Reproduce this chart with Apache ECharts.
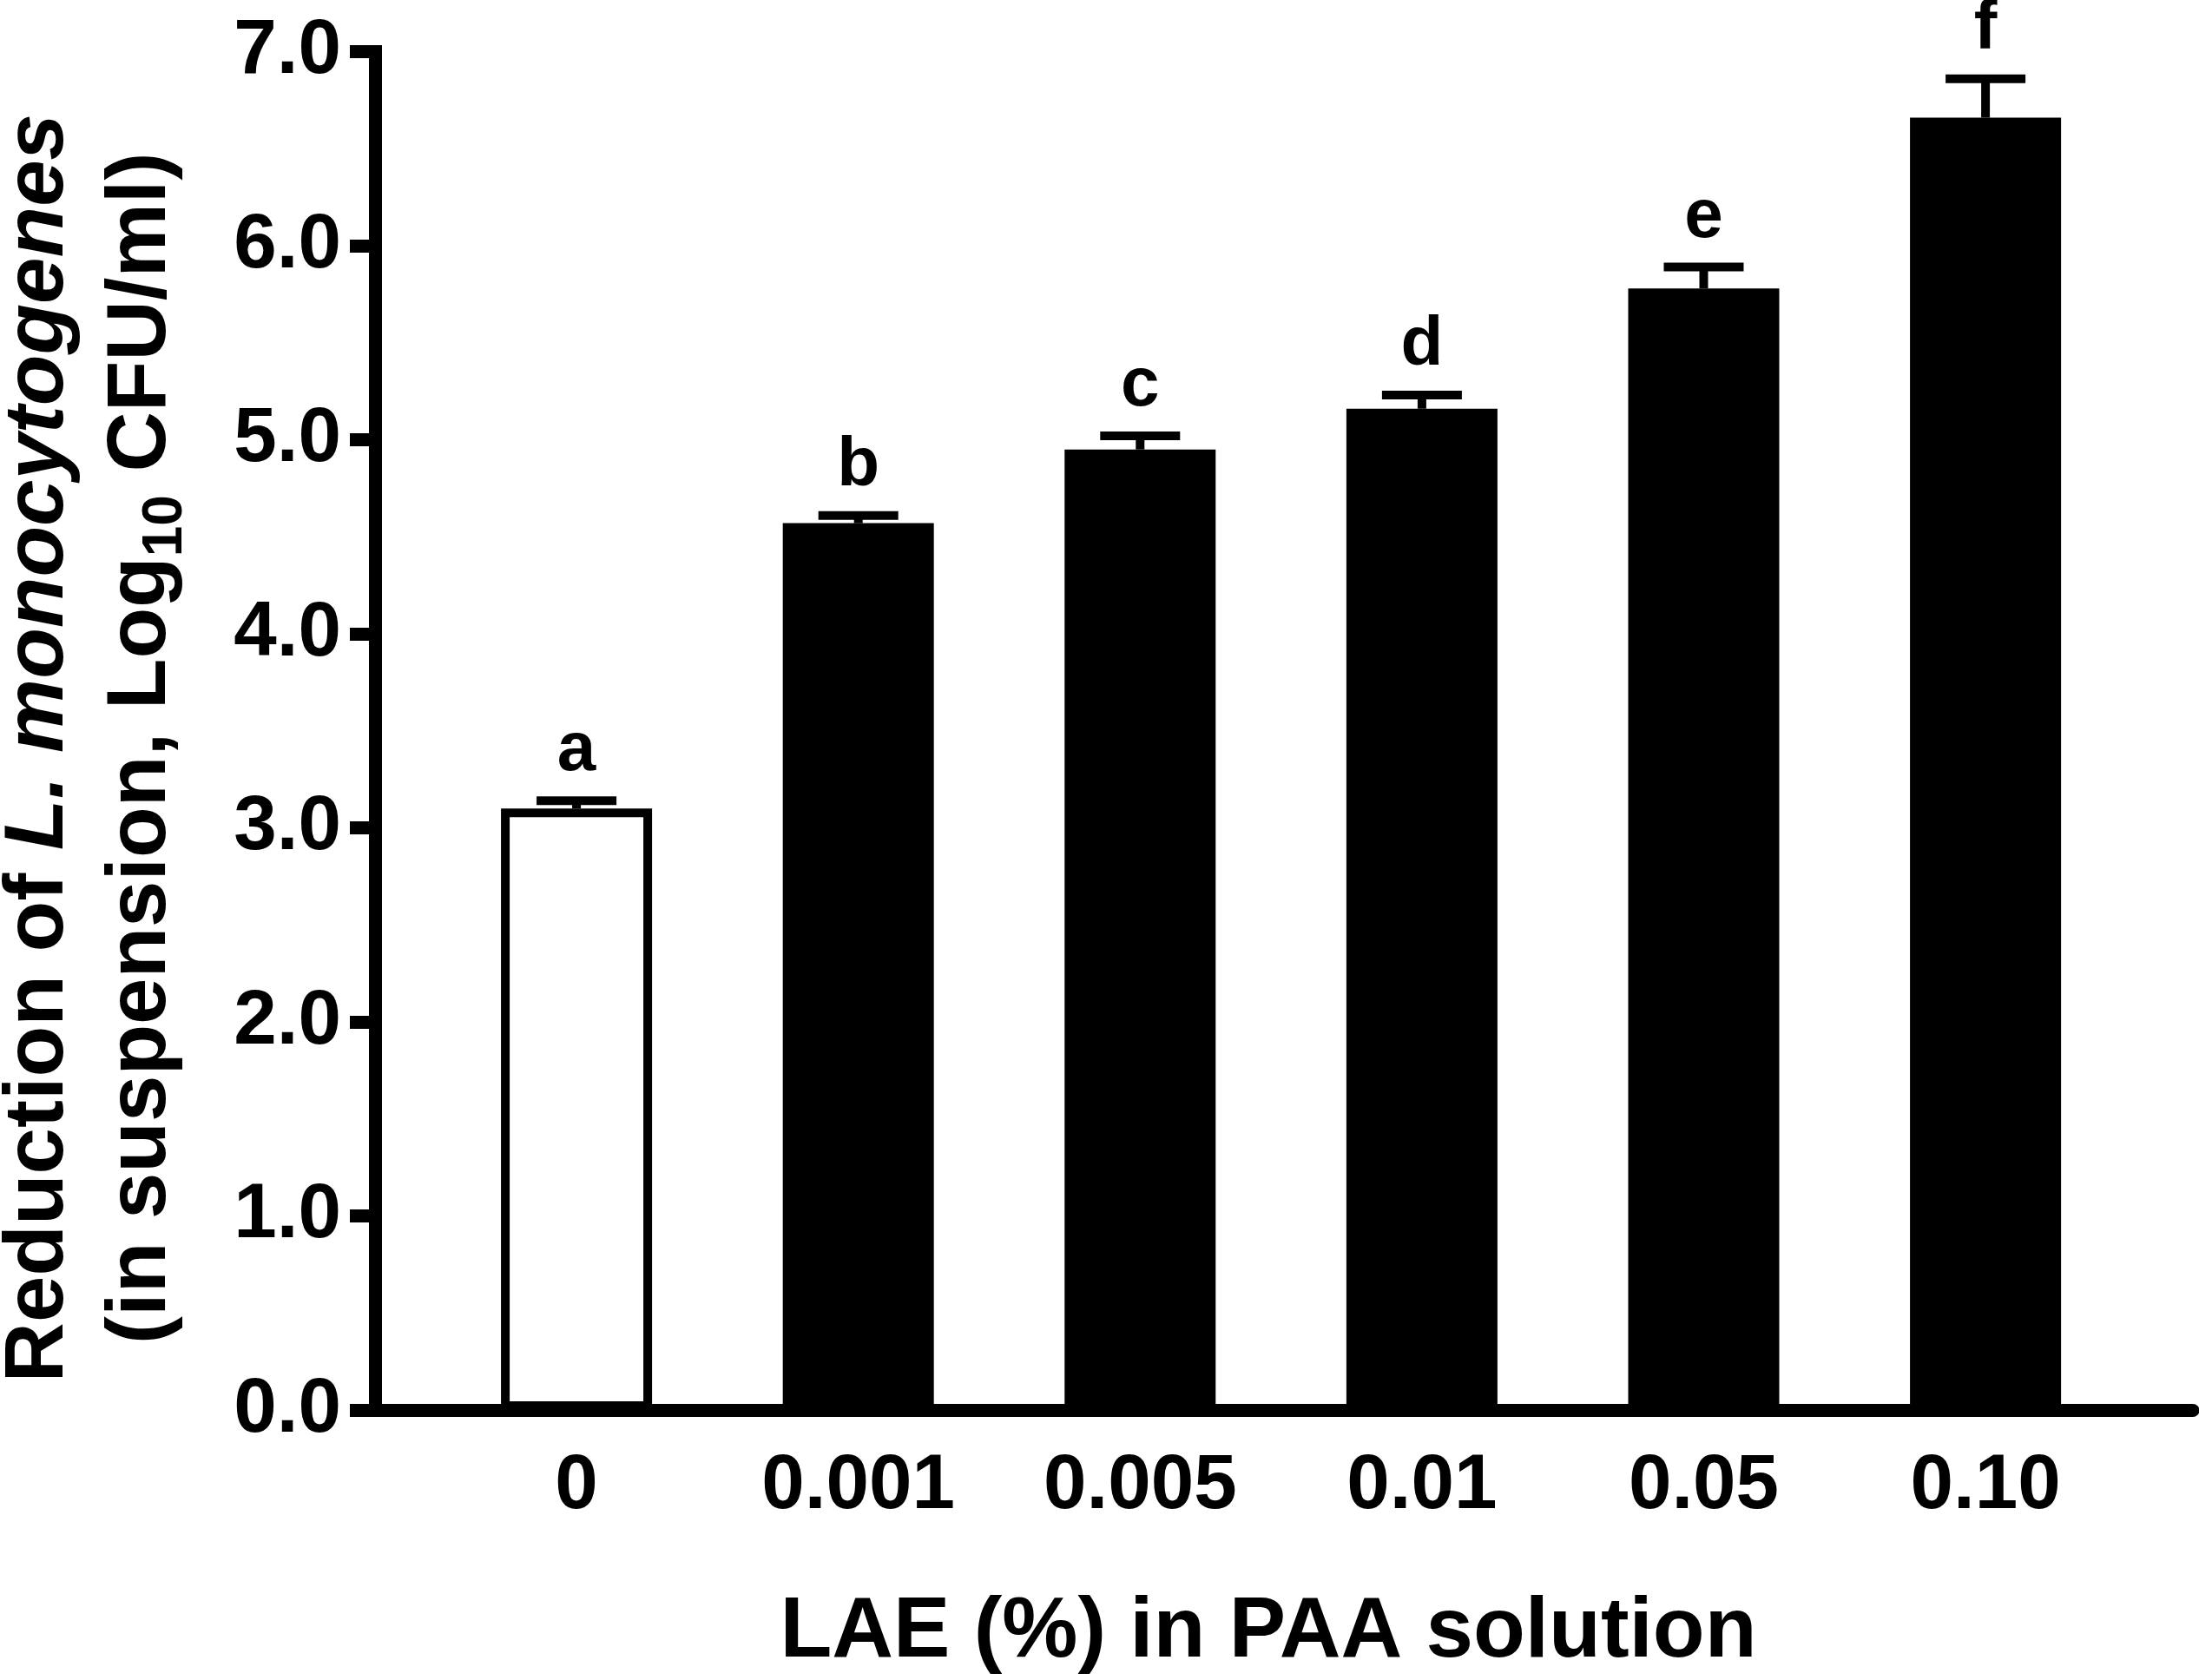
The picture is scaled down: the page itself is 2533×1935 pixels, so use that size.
<!DOCTYPE html>
<html>
<head>
<meta charset="utf-8">
<script src="https://cdn.jsdelivr.net/npm/echarts@6/dist/echarts.min.js"></script>
<style>
html, body { margin: 0; padding: 0; background: #fff; }
#main { width: 2533px; height: 1935px; }
</style>
</head>
<body>
<div id="main"></div>
<script>
// LAE concentration (%) in PAA solution
var categories = ['0', '0.001', '0.005', '0.01', '0.05', '0.10'];
// mean reduction, log10 CFU/ml
var means = [3.10, 4.57, 4.95, 5.16, 5.78, 6.66];
// upper error (SE)
var errors = [0.04, 0.04, 0.07, 0.07, 0.11, 0.20];
// significance letters
var letters = ['a', 'b', 'c', 'd', 'e', 'f'];

var FONT = 'Liberation Sans';

var barData = means.map(function (v, i) {
    var item = { value: [i, v] };
    if (i === 0) {
        item.itemStyle = { color: '#fff' };
    }
    return item;
});
var errData = means.map(function (v, i) {
    return [i, v, errors[i]];
});

var myChart = echarts.init(document.getElementById('main'));

var option = {
    backgroundColor: '#fff',
    animation: false,
    grid: {
        left: 432,
        right: 7,
        top: 59.5,
        bottom: 311,
        containLabel: false,
        outerBoundsMode: 'none'
    },
    xAxis: {
        type: 'value',
        min: -0.715,
        max: 5.736,
        splitNumber: 6,
        name: 'LAE (%) in PAA solution',
        nameLocation: 'middle',
        nameGap: 208,
        nameMoveOverlap: false,
        nameTextStyle: {
            color: '#000',
            fontFamily: FONT,
            fontWeight: 'bold',
            fontSize: 98,
            padding: [0, 36, 0, 0]
        },
        axisLine: { onZero: false, lineStyle: { color: '#000', width: 15 } },
        axisTick: { show: false },
        splitLine: { show: false },
        axisLabel: {
            margin: 44,
            color: '#000',
            fontFamily: FONT,
            fontWeight: 'bold',
            fontSize: 89,
            showMinLabel: false,
            showMaxLabel: false,
            formatter: function (v) {
                var r = Math.round(v);
                if (Math.abs(v - r) > 1e-6 || r < 0 || r >= categories.length) return '';
                return categories[r];
            }
        }
    },
    yAxis: {
        type: 'value',
        min: 0,
        max: 7,
        interval: 1,
        name: '{b|Reduction of }{i|L. monocytogenes}\n{b|(in suspension, Log}{sub|10}{b| CFU/ml)}',
        nameLocation: 'middle',
        nameRotate: 90,
        nameGap: 209,
        nameMoveOverlap: false,
        nameTextStyle: {
            color: '#000',
            fontFamily: FONT,
            fontWeight: 'bold',
            fontSize: 96,
            lineHeight: 118,
            padding: [0, 40, 0, 0],
            rich: {
                b: { fontFamily: FONT, fontWeight: 'bold', fontSize: 96, lineHeight: 118, color: '#000' },
                i: { fontFamily: FONT, fontWeight: 'bold', fontStyle: 'italic', fontSize: 96, lineHeight: 118, color: '#000' },
                sub: { fontFamily: FONT, fontWeight: 'bold', fontSize: 64, lineHeight: 54, verticalAlign: 'bottom', color: '#000' }
            }
        },
        axisLine: { onZero: false, lineStyle: { color: '#000', width: 15, cap: 'square' } },
        axisTick: { length: 29, lineStyle: { color: '#000', width: 15 } },
        splitLine: { show: false },
        axisLabel: {
            margin: 39,
            color: '#000',
            fontFamily: FONT,
            fontWeight: 'bold',
            fontSize: 89,
            formatter: function (v) { return v.toFixed(1); }
        }
    },
    series: [
        {
            type: 'bar',
            barWidth: 174,
            silent: true,
            itemStyle: { color: '#000', borderColor: '#000', borderWidth: 10 },
            data: barData,
            z: 2
        },
        {
            type: 'custom',
            silent: true,
            z: 3,
            data: errData,
            renderItem: function (params, api) {
                var x = api.value(0), v = api.value(1), e = api.value(2);
                var base = api.coord([x, v]);
                var top = api.coord([x, v + e]);
                var half = 46;
                return {
                    type: 'group',
                    children: [
                        {
                            type: 'line',
                            shape: { x1: base[0], y1: base[1], x2: top[0], y2: top[1] },
                            style: { stroke: '#000', lineWidth: 10 }
                        },
                        {
                            type: 'line',
                            shape: { x1: top[0] - half, y1: top[1], x2: top[0] + half, y2: top[1] },
                            style: { stroke: '#000', lineWidth: 10 }
                        },
                        {
                            type: 'text',
                            x: top[0],
                            y: top[1] - 17,
                            style: {
                                text: letters[params.dataIndex],
                                fill: '#000',
                                fontFamily: FONT,
                                fontWeight: 'bold',
                                fontSize: 80,
                                align: 'center',
                                verticalAlign: 'bottom'
                            }
                        }
                    ]
                };
            }
        }
    ]
};

myChart.setOption(option);
</script>
</body>
</html>
